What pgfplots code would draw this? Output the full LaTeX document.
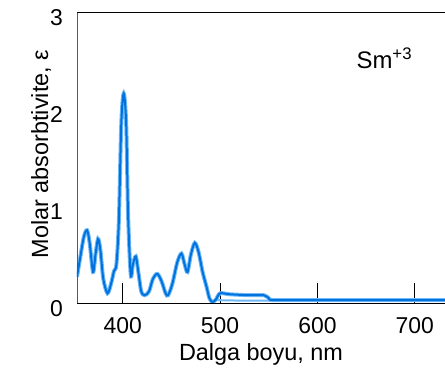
\documentclass[border=0pt]{standalone}
\usepackage{fontspec}
\setmainfont{Liberation Sans}
\usepackage{pgfplots}
\pgfplotsset{compat=1.18}
\definecolor{lc}{RGB}{0,114,224}
\definecolor{lh}{RGB}{110,185,245}
\pgfplotstableread{
x y
353 0.27
356 0.45
360 0.68
363.3 0.75
366 0.62
369.5 0.32
372 0.50
374.6 0.66
377 0.55
380 0.25
384.3 0.10
388 0.20
391 0.33
393.5 0.40
396 0.85
398.5 1.85
401 2.16
403.5 1.85
405.5 0.90
408.2 0.29
410.5 0.40
413.4 0.48
416 0.32
419 0.12
422.6 0.08
427 0.12
431 0.25
435.6 0.30
440 0.22
444 0.10
446.6 0.08
451 0.20
456 0.42
460.3 0.51
463.5 0.40
466.5 0.32
470 0.50
474 0.62
478 0.52
482 0.32
486 0.17
489 0.05
492.2 0.01
496 0.04
500 0.10
510 0.09
530 0.08
545 0.08
550 0.05
555 0.03
600 0.03
650 0.03
700 0.03
731 0.03
}\spec
\begin{document}
\begin{tikzpicture}
\begin{axis}[
  scale only axis, width=368bp, height=291bp,
  xmin=353, xmax=731, ymin=0, ymax=3,
  axis line style={draw=none},
  xtick={400,500,600,700}, ytick={0,1,2,3},
  xtick pos=bottom, ytick pos=left,
  xtick align=inside, major tick length=20bp,
  xtick style={black, line width=0.8pt},
  ytick style={draw=none},
  /pgf/number format/assume math mode=true,
  tick label style={font=\fontsize{23}{26}\selectfont, inner sep=0pt},
  xticklabel style={anchor=base, yshift=-30bp},
  yticklabel style={anchor=east, xshift=-14bp, yshift=-6bp},
  label style={font=\fontsize{23.5}{27}\selectfont, inner sep=0pt},
  xlabel={Dalga boyu, nm},
  ylabel={Molar absorbtivite, ε},
  xlabel style={at={(axis description cs:0.5,-0.196)}, anchor=base},
  ylabel style={at={(axis description cs:-0.0788,0.512)}, anchor=base},
  clip=true,
]
\coordinate (ll) at (rel axis cs:0,0);
\coordinate (ur) at (rel axis cs:1,1);
\addplot[lh, line width=2pt, smooth, tension=0.5] coordinates {
 (495,0.03) (520,0.025) (548,0.025) (555,0.02)
};
\addplot[lh, line width=4pt, smooth, tension=0.5] table {\spec};
\addplot[lc, line width=2pt, smooth, tension=0.5] table {\spec};
\node[anchor=base west, inner sep=0pt, font=\fontsize{24}{27}\selectfont] at (axis cs:640,2.42) {Sm\textsuperscript{+3}};
\end{axis}
\draw[gray!70!black, line width=0.8pt] (ll) -- (ll |- ur);
\draw[black, line width=0.6pt] (ll |- ur) -- (ur);
\draw[black, line width=1pt] (ll) -- (ll -| ur);
\pgfresetboundingbox
\path ([shift={(-77bp,-71bp)}]ll) rectangle ([shift={(0bp,12bp)}]ur);
\end{tikzpicture}
\end{document}
